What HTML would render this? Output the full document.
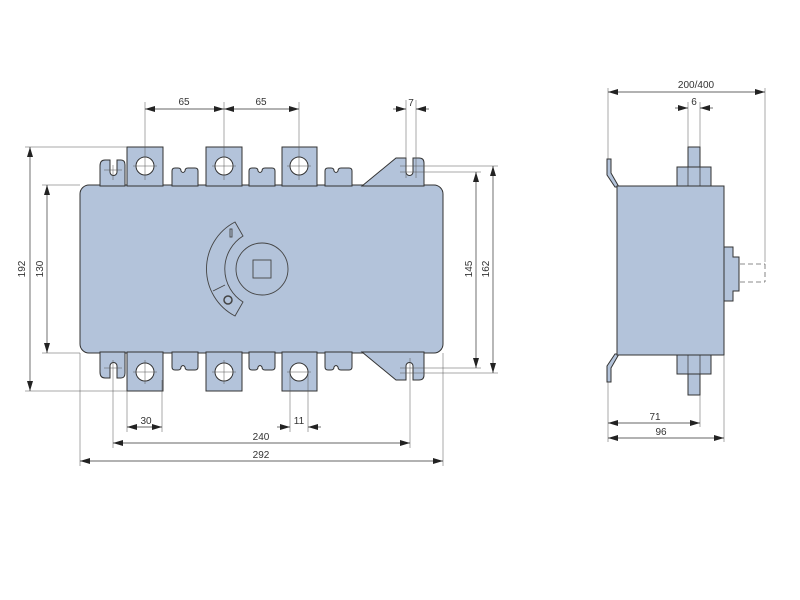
<!DOCTYPE html>
<html><head><meta charset="utf-8"><style>
html,body{margin:0;padding:0;background:#fff;width:800px;height:600px;overflow:hidden}
svg{display:block}
text{font-family:"Liberation Sans",sans-serif;font-size:10px;fill:#333}
</style></head><body>
<svg width="800" height="600" viewBox="0 0 800 600" xmlns="http://www.w3.org/2000/svg">
<defs>
<marker id="a" viewBox="0 0 10 6" refX="10" refY="3" markerWidth="10" markerHeight="6" orient="auto-start-reverse" markerUnits="userSpaceOnUse"><path d="M0,0L10,3L0,6z" fill="#222"/></marker>
<g id="half">
  <!-- left ear -->
  <path d="M100,186 V166 Q100,160 105,160 H110 V172 A3.5,3.5 0 0 0 117,172 V160 H121 Q125,160 125,165 V186 Z"/>
  <!-- terminals -->
  <path d="M127,186 V147 H163 V186 Z"/>
  <path d="M206,186 V147 H242 V186 Z"/>
  <path d="M282,186 V147 H317 V186 Z"/>
  <!-- slot pieces -->
  <path d="M172,186 V171 Q172,168 175,168 H178 Q181,168 181,171 Q183,174 185,171 Q185,168 188,168 H195 Q198,168 198,171 V186 Z"/>
  <path d="M249,186 V171 Q249,168 252,168 H255 Q258,168 258,171 Q260,174 262,171 Q262,168 265,168 H272 Q275,168 275,171 V186 Z"/>
  <path d="M325,186 V171 Q325,168 328,168 H331 Q334,168 334,171 Q336,174 338,171 Q338,168 341,168 H349 Q352,168 352,171 V186 Z"/>
  <!-- right ear -->
  <path d="M362,186 L396,158 H406 V172 A3.5,3.5 0 0 0 413,172 V158 H419 Q424,158 424,163 V186 Z"/>
</g>
</defs>
<g fill="#b3c3da" stroke="#333" stroke-width="1">
  <rect x="80" y="185" width="363" height="168" rx="9"/>
  <use href="#half"/>
  <use href="#half" transform="translate(0,538) scale(1,-1)"/>
</g>
<!-- holes -->
<g fill="#fff" stroke="#333" stroke-width="1">
  <circle cx="145" cy="166" r="9"/><circle cx="224" cy="166" r="9"/><circle cx="299" cy="166" r="9"/>
  <circle cx="145" cy="372" r="9"/><circle cx="224" cy="372" r="9"/><circle cx="299" cy="372" r="9"/>
</g>
<!-- handle -->
<g fill="none" stroke="#444" stroke-width="0.9">
  <circle cx="262" cy="269" r="26"/>
  <rect x="253" y="260" width="18" height="18"/>
  <path d="M235,222 A53,53 0 0 0 235,316 L243,302 A39,39 0 0 1 243,236 Z"/>
  <line x1="213" y1="291" x2="225" y2="285"/>
  <rect x="230" y="229" width="2" height="8"/>
  <circle cx="228" cy="300" r="4" stroke-width="1.5"/>
</g>
<!-- centerlines -->
<g stroke="#555" stroke-width="0.5" fill="none">
  <line x1="145" y1="102" x2="145" y2="180"/><line x1="224" y1="102" x2="224" y2="180"/><line x1="299" y1="102" x2="299" y2="180"/>
  <line x1="133" y1="166" x2="157" y2="166"/><line x1="212" y1="166" x2="236" y2="166"/><line x1="287" y1="166" x2="311" y2="166"/>
  <line x1="133" y1="372" x2="157" y2="372"/><line x1="212" y1="372" x2="236" y2="372"/><line x1="287" y1="372" x2="311" y2="372"/>
  <line x1="145" y1="360" x2="145" y2="384"/><line x1="224" y1="360" x2="224" y2="384"/>
  <line x1="406" y1="100" x2="406" y2="178"/><line x1="416" y1="100" x2="416" y2="178"/>
  <line x1="113" y1="165" x2="113" y2="180"/><line x1="104" y1="170" x2="122" y2="170"/>
  <line x1="113" y1="360" x2="113" y2="448"/><line x1="104" y1="368" x2="122" y2="368"/>
  <line x1="410" y1="358" x2="410" y2="448"/>
  <line x1="25" y1="147" x2="127" y2="147"/><line x1="25" y1="391" x2="127" y2="391"/>
  <line x1="42" y1="185" x2="80" y2="185"/><line x1="42" y1="353" x2="80" y2="353"/>
  <line x1="400" y1="166" x2="498" y2="166"/><line x1="400" y1="172" x2="481" y2="172"/>
  <line x1="400" y1="368" x2="481" y2="368"/><line x1="400" y1="373" x2="498" y2="373"/>
  <line x1="127" y1="391" x2="127" y2="432"/><line x1="162" y1="380" x2="162" y2="432"/>
  <line x1="290" y1="372" x2="290" y2="432"/><line x1="308" y1="372" x2="308" y2="432"/>
  <line x1="80" y1="353" x2="80" y2="466"/><line x1="443" y1="353" x2="443" y2="466"/>
</g>
<!-- dimension lines -->
<g stroke="#333" stroke-width="0.7" fill="none">
  <line x1="145" y1="109" x2="224" y2="109" marker-start="url(#a)" marker-end="url(#a)"/>
  <line x1="224" y1="109" x2="299" y2="109" marker-start="url(#a)" marker-end="url(#a)"/>
  <line x1="393" y1="109" x2="406" y2="109" marker-end="url(#a)"/>
  <line x1="429" y1="109" x2="416" y2="109" marker-end="url(#a)"/>
  <line x1="30" y1="147" x2="30" y2="391" marker-start="url(#a)" marker-end="url(#a)"/>
  <line x1="47" y1="185" x2="47" y2="353" marker-start="url(#a)" marker-end="url(#a)"/>
  <line x1="476" y1="172" x2="476" y2="368" marker-start="url(#a)" marker-end="url(#a)"/>
  <line x1="493" y1="166" x2="493" y2="373" marker-start="url(#a)" marker-end="url(#a)"/>
  <line x1="127" y1="427" x2="162" y2="427" marker-start="url(#a)" marker-end="url(#a)"/>
  <line x1="277" y1="427" x2="290" y2="427" marker-end="url(#a)"/>
  <line x1="321" y1="427" x2="308" y2="427" marker-end="url(#a)"/>
  <line x1="113" y1="443" x2="410" y2="443" marker-start="url(#a)" marker-end="url(#a)"/>
  <line x1="80" y1="461" x2="443" y2="461" marker-start="url(#a)" marker-end="url(#a)"/>
</g>
<text x="184" y="105" text-anchor="middle">65</text>
<text x="261" y="105" text-anchor="middle">65</text>
<text x="411" y="106" text-anchor="middle">7</text>
<text x="146" y="424" text-anchor="middle">30</text>
<text x="299" y="424" text-anchor="middle">11</text>
<text x="261" y="440" text-anchor="middle">240</text>
<text x="261" y="458" text-anchor="middle">292</text>
<text transform="translate(25,269) rotate(-90)" text-anchor="middle">192</text>
<text transform="translate(43,269) rotate(-90)" text-anchor="middle">130</text>
<text transform="translate(472,269) rotate(-90)" text-anchor="middle">145</text>
<text transform="translate(489,269) rotate(-90)" text-anchor="middle">162</text>

<!-- side view -->
<g fill="#b3c3da" stroke="#333" stroke-width="1">
  <rect x="677" y="167" width="34" height="20"/>
  <rect x="688" y="147" width="12" height="20"/>
  <rect x="677" y="354" width="34" height="20"/>
  <rect x="688" y="374" width="12" height="21"/>
  <path d="M724,247 H733 V257 H739 V291 H733 V301 H724 Z"/>
  <path d="M607,159 H611 V173 L619,187 H615 L607,175 Z"/>
  <path d="M607,382 H611 V368 L619,354 H615 L607,366 Z"/>
  <rect x="617" y="186" width="107" height="169"/>
</g>
<g stroke="#333" stroke-width="0.7" fill="none">
  <line x1="688" y1="167" x2="688" y2="186"/><line x1="700" y1="167" x2="700" y2="186"/>
  <line x1="688" y1="355" x2="688" y2="374"/><line x1="700" y1="355" x2="700" y2="374"/>
</g>
<g stroke="#666" stroke-width="0.8" fill="none" stroke-dasharray="5,3">
  <line x1="740" y1="264" x2="765" y2="264"/><line x1="740" y1="282" x2="765" y2="282"/>
  <line x1="765" y1="264" x2="765" y2="282"/>
</g>
<g stroke="#555" stroke-width="0.5" fill="none">
  <line x1="608" y1="88" x2="608" y2="159"/><line x1="608" y1="382" x2="608" y2="442"/>
  <line x1="765" y1="88" x2="765" y2="262"/>
  <line x1="688" y1="102" x2="688" y2="147"/><line x1="700" y1="102" x2="700" y2="147"/>
  <line x1="700" y1="395" x2="700" y2="427"/><line x1="724" y1="355" x2="724" y2="442"/>
</g>
<g stroke="#333" stroke-width="0.7" fill="none">
  <line x1="608" y1="92" x2="765" y2="92" marker-start="url(#a)" marker-end="url(#a)"/>
  <line x1="675" y1="108" x2="688" y2="108" marker-end="url(#a)"/>
  <line x1="713" y1="108" x2="700" y2="108" marker-end="url(#a)"/>
  <line x1="608" y1="423" x2="700" y2="423" marker-start="url(#a)" marker-end="url(#a)"/>
  <line x1="608" y1="438" x2="724" y2="438" marker-start="url(#a)" marker-end="url(#a)"/>
</g>
<text x="696" y="88" text-anchor="middle">200/400</text>
<text x="694" y="105" text-anchor="middle">6</text>
<text x="655" y="420" text-anchor="middle">71</text>
<text x="661" y="435" text-anchor="middle">96</text>
</svg>
</body></html>
